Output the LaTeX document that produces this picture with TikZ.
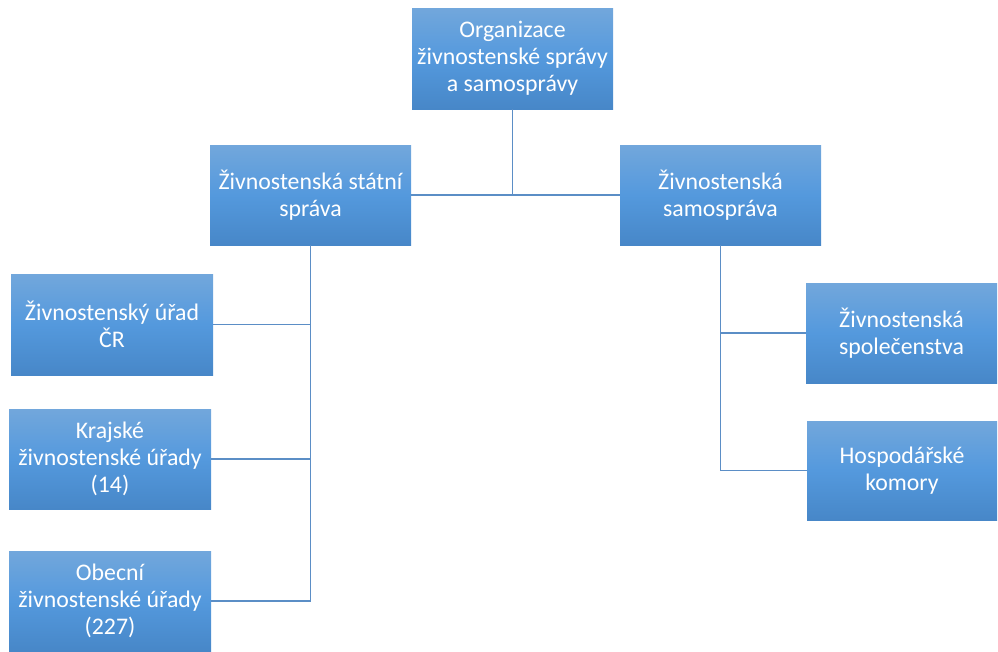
\documentclass[tikz,border=0pt]{standalone}
\usepackage{fontspec}
\setmainfont{Carlito}
\begin{document}
\begin{tikzpicture}[x=1pt,y=-1pt,
  box/.style={rectangle, inner sep=0pt, align=center, text=white,
    top color=boxtop, bottom color=boxbot, middle color=boxmid,
    font=\fontsize{23.8}{26.8}\selectfont},
  conn/.style={draw=linecol, line width=1.3pt}]
\definecolor{boxtop}{HTML}{72A7DC}
\definecolor{boxmid}{HTML}{5499DD}
\definecolor{boxbot}{HTML}{4787C8}
\definecolor{linecol}{HTML}{5B8EC6}
\useasboundingbox (0,0) rectangle (998,651);
\node[box, minimum width=201pt, minimum height=101pt] (top) at (512.5,58.5) {Organizace\\živnostenské správy\\a samosprávy};
\node[box, minimum width=201pt, minimum height=100pt] (stat) at (310.5,195) {Živnostenská státní\\správa};
\node[box, minimum width=201pt, minimum height=100pt] (samo) at (720.5,195) {Živnostenská\\samospráva};
\node[box, minimum width=202pt, minimum height=101pt] (urad) at (112,324.5) {Živnostenský úřad\\ČR};
\node[box, minimum width=202pt, minimum height=100pt] (kraj) at (110,459) {Krajské\\živnostenské úřady\\(14)};
\node[box, minimum width=202pt, minimum height=100pt] (obec) at (110,601) {Obecní\\živnostenské úřady\\(227)};
\node[box, minimum width=191pt, minimum height=100pt] (spol) at (901.5,333) {Živnostenská\\společenstva};
\node[box, minimum width=190pt, minimum height=99pt] (hosp) at (902,470.5) {Hospodářské\\komory};
\coordinate (hub) at (top.south |- stat.east);
\draw[conn] (top.south) -- (hub);
\draw[conn] (stat.east) -- (samo.west);
\draw[conn] (stat.south) |- (obec.east);
\draw[conn] (urad.east) -- (urad.east -| stat.south);
\draw[conn] (kraj.east) -- (kraj.east -| stat.south);
\draw[conn] (samo.south) |- (hosp.west);
\draw[conn] (spol.west) -- (spol.west -| samo.south);
\end{tikzpicture}
\end{document}
